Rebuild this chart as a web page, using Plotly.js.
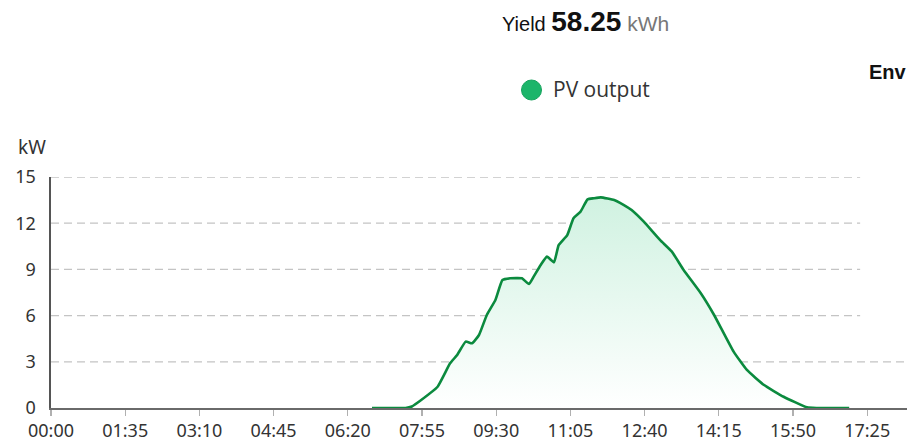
<!DOCTYPE html>
<html>
<head>
<meta charset="utf-8">
<script src="https://cdn.plot.ly/plotly-3.0.1.min.js"></script>
<style>
html,body{margin:0;padding:0;background:#fff;}
#chart{width:907px;height:442px;}
</style>
</head>
<body>
<div id="chart"></div>
<script>
// Data
const times = ["06:51","07:34","07:42","07:54","08:15","08:31","08:40","08:51","08:59","09:08","09:18","09:29","09:38","09:48","10:03","10:12","10:18","10:27","10:35","10:44","10:50","11:01","11:09","11:18","11:27","11:35","11:44","12:01","12:08","12:26","12:39","13:00","13:15","13:30","13:52","14:09","14:34","14:51","15:13","15:38","16:08","16:20","17:02"];
const pvOutput = [0,0,0.1,0.52,1.38,2.9,3.44,4.31,4.2,4.74,6.04,7.01,8.31,8.42,8.42,8.05,8.53,9.29,9.83,9.46,10.58,11.23,12.32,12.75,13.55,13.62,13.68,13.5,13.33,12.75,12.1,10.9,10.15,8.96,7.45,6.04,3.66,2.47,1.49,0.73,0.04,0,0];
const xTickLabels = ["00:00","01:35","03:10","04:45","06:20","07:55","09:30","11:05","12:40","14:15","15:50","17:25"];
const yTicks = [0,3,6,9,12,15];
const yieldValue = "58.25";
const seriesName = "PV output";

const toMin = s => { const p = s.split(":"); return (+p[0])*60 + (+p[1]); };
const xs = times.map(toMin);
const xTickVals = xTickLabels.map(toMin);

const xMax = 1096;      // right edge of visible plot
const gridEnd = 1036;   // dashed grid lines stop here

const shapes = yTicks.filter(v => v > 0).map(v => ({
  type: 'line', xref: 'x', yref: 'y',
  x0: 0, x1: (v === 3 ? xMax : gridEnd), y0: v, y1: v,
  line: {color: '#c4c4c4', width: 1.3, dash: '8px,5px'},
  layer: 'below'
}));
// legend dot
shapes.push({
  type: 'circle', xref: 'paper', yref: 'paper',
  xsizemode: 'pixel', ysizemode: 'pixel',
  xanchor: (531.5 - 51) / 856, yanchor: (408 - 90) / 231,
  x0: -10, x1: 10, y0: -10, y1: 10,
  fillcolor: '#1cb56a', line: {color: '#16a35d', width: 1}
});

const trace = {
  x: xs, y: pvOutput, type: 'scatter', mode: 'lines', name: seriesName,
  line: {color: '#0b8a3e', width: 2.6, shape: 'spline', smoothing: 0.4},
  fill: 'tozeroy',
  fillgradient: {type: 'vertical', colorscale: [[0, 'rgba(255,255,255,1)'], [1, 'rgba(208,242,225,1)']]},
  hoverinfo: 'skip'
};

const layout = {
  width: 907, height: 442,
  margin: {l: 51, r: 0, t: 177, b: 34, pad: 0},
  paper_bgcolor: '#fff', plot_bgcolor: '#fff',
  showlegend: false,
  xaxis: {
    range: [0, xMax], tickmode: 'array', tickvals: xTickVals, ticktext: xTickLabels,
    showgrid: false, zeroline: false, showline: true, linecolor: '#6a6a6a', linewidth: 1.6,
    ticks: 'outside', ticklen: 6, tickcolor: '#b0b0b0', tickwidth: 1.3, ticklabelstandoff: 0,
    tickfont: {family: 'Noto Sans, Open Sans, sans-serif', size: 18, color: '#333'},
    fixedrange: true
  },
  yaxis: {
    range: [0, 15], tickmode: 'array', tickvals: yTicks,
    showgrid: false, zeroline: false, showline: true, linecolor: '#555', linewidth: 1.6,
    ticks: '', ticklabelstandoff: 10,
    tickfont: {family: 'Noto Sans, Open Sans, sans-serif', size: 18, color: '#333'},
    fixedrange: true
  },
  shapes: shapes,
  annotations: [
    {xref: 'paper', yref: 'paper', x: -0.041, y: (408 - 147) / 231, xanchor: 'left', yanchor: 'middle',
     text: 'kW', showarrow: false, font: {family: 'Noto Sans, sans-serif', size: 19, color: '#333'}},
    {xref: 'paper', yref: 'paper', x: (500 - 51) / 856, y: (408 - 21) / 231, xanchor: 'left', yanchor: 'middle',
     showarrow: false,
     text: '<span style="font-size:20px;color:#111">Yield </span><b style="font-size:28px;color:#111">' + yieldValue + '</b><span style="font-size:21px;color:#777"> kWh</span>',
     font: {family: 'Liberation Sans, Arial, sans-serif', size: 20, color: '#111'}},
    {xref: 'paper', yref: 'paper', x: (551 - 51) / 856, y: (408 - 89) / 231, xanchor: 'left', yanchor: 'middle',
     showarrow: false, text: seriesName,
     font: {family: 'Open Sans, sans-serif', size: 21, color: '#333'}},
    {xref: 'paper', yref: 'paper', x: (867 - 51) / 856, y: (408 - 72) / 231, xanchor: 'left', yanchor: 'middle',
     showarrow: false, text: '<b>Env</b>',
     font: {family: 'Liberation Sans, Arial, sans-serif', size: 20, color: '#111'}}
  ]
};

Plotly.newPlot('chart', [trace], layout, {displayModeBar: false, staticPlot: true});
</script>
</body>
</html>
